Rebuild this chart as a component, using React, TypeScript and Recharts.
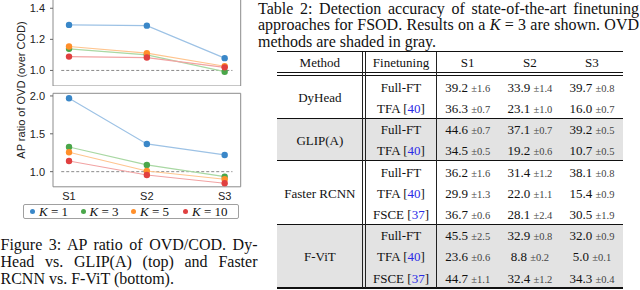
import { LineChart, Line, XAxis, YAxis, ReferenceLine, ReferenceArea } from 'recharts'

// ---- figure data (AP ratio OVD / COD) ----
const stages = ['S1', 'S2', 'S3']
const shotLabels = ['1', '3', '5', '10']
const dotColors = ['#3a87c8', '#4aa64a', '#ff8f2a', '#e04040']
const lineColors = ['#9dc2e5', '#a9d8a3', '#ffc58f', '#f2a3a3']

// top: DyHead vs GLIP(A)
const topK1 = [1.293, 1.288, 1.079]
const topK3 = [1.139, 1.1, 0.992]
const topK5 = [1.154, 1.111, 1.027]
const topK10 = [1.089, 1.083, 1.02]
const topTicks = [1.0, 1.2, 1.4]

// bottom: Faster RCNN vs F-ViT
const botK1 = [1.97, 1.366, 1.221]
const botK3 = [1.326, 1.089, 0.934]
const botK5 = [1.256, 1.009, 0.9]
const botK10 = [1.141, 0.956, 0.847]
const botTicks = [1.0, 1.5, 2.0]

// ---- table data (K = 3) ----
const methods = ['DyHead', 'GLIP(A)', 'Faster RCNN', 'F-ViT']
const methodRowCount = [2, 2, 3, 3]
const methodShaded = [false, true, false, true]
const finetuning = ['Full-FT', 'TFA', 'Full-FT', 'TFA', 'Full-FT', 'TFA', 'FSCE', 'Full-FT', 'TFA', 'FSCE']
const citations: Record<string, string> = { TFA: '40', FSCE: '37' }
const s1Mean = ['39.2', '36.3', '44.6', '34.5', '36.2', '29.9', '36.7', '45.5', '23.6', '44.7']
const s1Std = ['1.6', '0.7', '0.7', '0.5', '1.6', '1.3', '0.6', '2.5', '0.6', '1.1']
const s2Mean = ['33.9', '23.1', '37.1', '19.2', '31.4', '22.0', '28.1', '32.9', '8.8', '32.4']
const s2Std = ['1.4', '1.0', '0.7', '0.6', '1.2', '1.1', '2.4', '0.8', '0.2', '1.2']
const s3Mean = ['39.7', '16.0', '39.2', '10.7', '38.1', '15.4', '30.5', '32.0', '5.0', '34.3']
const s3Std = ['0.8', '0.7', '0.5', '0.5', '0.8', '0.9', '1.9', '0.9', '0.1', '0.4']

const SANS = "'Liberation Sans', Arial, sans-serif"
const SERIF = "'Liberation Serif', 'Times New Roman', serif"

const toRows = (k1: number[], k3: number[], k5: number[], k10: number[]) =>
  stages.map((_, i) => ({ x: i, k1: k1[i], k3: k3[i], k5: k5[i], k10: k10[i] }))

const topData = toRows(topK1, topK3, topK5, topK10)
const botData = toRows(botK1, botK3, botK5, botK10)
const keys = ['k1', 'k3', 'k5', 'k10']

const X_DOMAIN: [number, number] = [-0.206, 2.206]

function Panel({ data, domain, ticks, showX, top, height, marginTop }: {
  data: any[]
  domain: [number, number]
  ticks: number[]
  showX: boolean
  top: number
  height: number
  marginTop: number
}) {
  return (
    <div style={{ position: 'absolute', left: 0, top }}>
      <LineChart width={250} height={height} data={data}
        margin={{ top: marginTop, right: 9.3, bottom: 0, left: 8 }}>
        <XAxis
          type="number"
          dataKey="x"
          domain={X_DOMAIN}
          ticks={[0, 1, 2]}
          tickFormatter={(i: number) => stages[i]}
          hide={!showX}
          allowDataOverflow
          axisLine={false}
          tickLine={false}
          tickSize={3}
          tickMargin={2}
          height={20.2}
          tick={{ fontSize: 11, fill: '#222', fontFamily: SANS }}
        />
        <YAxis
          type="number"
          domain={domain}
          ticks={ticks}
          allowDataOverflow
          tickFormatter={(v: number) => v.toFixed(1)}
          width={45}
          axisLine={false}
          tickSize={3}
          tickMargin={5}
          tickLine={{ stroke: '#666' }}
          tick={{ fontSize: 11, fill: '#222', fontFamily: SANS }}
        />
        <ReferenceArea x1={X_DOMAIN[0]} x2={X_DOMAIN[1]} y1={domain[0]} y2={domain[1]}
          fill="none" fillOpacity={0} stroke="#8c8c8c" strokeWidth={1} strokeOpacity={1} />
        <ReferenceLine segment={[{ x: -0.1, y: 1 }, { x: 2.1, y: 1 }]}
          stroke="#8a8a8a" strokeDasharray="3 2" strokeWidth={1} />
        {keys.map((k, i) => (
          <Line key={k} dataKey={k} type="linear" stroke={lineColors[i]} strokeWidth={1.2}
            dot={{ r: 3.2, fill: dotColors[i], stroke: 'none' }}
            activeDot={false} isAnimationActive={false} />
        ))}
      </LineChart>
    </div>
  )
}

function Legend() {
  return (
    <div style={{
      position: 'absolute', left: 23, top: 204, width: 208, height: 13,
      border: '1px solid #a0a0a0', borderRadius: 2, display: 'flex', alignItems: 'center',
      paddingLeft: 6, boxSizing: 'content-box', fontFamily: SERIF, fontSize: 13, color: '#111',
    }}>
      {shotLabels.map((s, i) => (
        <div key={s} style={{ display: 'flex', alignItems: 'center', marginRight: i === 2 ? 14 : 12.5 }}>
          <span style={{ width: 5, height: 5, borderRadius: 3, background: dotColors[i], display: 'inline-block', marginRight: 4 }} />
          <span style={{ whiteSpace: 'nowrap', lineHeight: '13px' }}><i>K</i> = {s}</span>
        </div>
      ))}
    </div>
  )
}

function CaptionLine({ children, last }: { children: any; last?: boolean }) {
  return (
    <div style={{ height: 'auto', textAlign: 'justify', textAlignLast: last ? 'left' : 'justify', whiteSpace: 'nowrap' }}>
      {children}
    </div>
  )
}

// table geometry
const T_LEFT = 277
const T_RIGHT = 623
const COL_SPLIT1 = 362.7
const COL_SPLIT2 = 365.3
const COL_SPLIT3 = 436.7
const T_TOP = 51.7
const HEAD_BOTTOM = 72.3
const BODY_TOP = 76
const ROW_H = 21.2
const T_BOTTOM = 288

function Cell({ left, width, top, height, children, align = 'center' }: any) {
  return (
    <div style={{
      position: 'absolute', left, width, top: top + 1.2, height, display: 'flex',
      alignItems: 'center', justifyContent: align, whiteSpace: 'nowrap',
    }}>{children}</div>
  )
}

function Value({ mean, std }: { mean: string; std: string }) {
  return (
    <span>{mean} <span style={{ fontSize: 10.5, color: '#444' }}>±{std}</span></span>
  )
}

function Table() {
  const colW = (T_RIGHT - COL_SPLIT3) / 3
  const cols = [s1Mean, s2Mean, s3Mean]
  const stds = [s1Std, s2Std, s3Std]
  const hline = (y: number, h: number) => (
    <div style={{ position: 'absolute', left: T_LEFT, width: T_RIGHT - T_LEFT, top: y - h / 2, height: h, background: '#111' }} />
  )
  const vline = (x: number) => (
    <div style={{ position: 'absolute', left: x - 0.4, width: 0.8, top: T_TOP, height: T_BOTTOM - T_TOP, background: '#222' }} />
  )
  const blocks: { top: number; h: number }[] = []
  let y = BODY_TOP
  methodRowCount.forEach(n => { blocks.push({ top: y, h: n * ROW_H }); y += n * ROW_H })
  let rowIdx = 0
  const rows: any[] = []
  blocks.forEach((b, bi) => {
    for (let r = 0; r < methodRowCount[bi]; r++) {
      const i = rowIdx++
      const top = b.top + r * ROW_H
      const ft = finetuning[i]
      rows.push(
        <Cell key={'f' + i} left={COL_SPLIT2} width={COL_SPLIT3 - COL_SPLIT2} top={top} height={ROW_H}>
          <span>{ft}{citations[ft] ? <> [<span style={{ color: '#2a2ae6' }}>{citations[ft]}</span>]</> : null}</span>
        </Cell>
      )
      cols.forEach((c, ci) => rows.push(
        <Cell key={'v' + i + ci} left={COL_SPLIT3 + ci * colW} width={colW} top={top} height={ROW_H}>
          <Value mean={c[i]} std={stds[ci][i]} />
        </Cell>
      ))
    }
  })
  return (
    <div style={{ position: 'absolute', left: 0, top: 0, width: 640, height: 290, fontFamily: SERIF, fontSize: 13, color: '#111' }}>
      {blocks.map((b, bi) => methodShaded[bi] ? (
        <div key={'s' + bi} style={{ position: 'absolute', left: T_LEFT, width: T_RIGHT - T_LEFT, top: b.top, height: b.h, background: '#e3e3e3' }} />
      ) : null)}
      {hline(T_TOP, 1.1)}
      {hline(HEAD_BOTTOM, 0.7)}
      {hline(BODY_TOP - 0.3, 0.7)}
      {blocks.slice(1).map((b, bi) => <div key={'h' + bi}>{hline(b.top, 0.8)}</div>)}
      {hline(T_BOTTOM, 1.6)}
      {vline(COL_SPLIT1)}
      {vline(COL_SPLIT2)}
      {vline(COL_SPLIT3)}
      <Cell left={T_LEFT} width={COL_SPLIT1 - T_LEFT} top={T_TOP} height={HEAD_BOTTOM - T_TOP}>Method</Cell>
      <Cell left={COL_SPLIT2} width={COL_SPLIT3 - COL_SPLIT2} top={T_TOP} height={HEAD_BOTTOM - T_TOP}>Finetuning</Cell>
      {stages.map((s, i) => (
        <Cell key={s} left={COL_SPLIT3 + i * colW} width={colW} top={T_TOP} height={HEAD_BOTTOM - T_TOP}>{s}</Cell>
      ))}
      {blocks.map((b, bi) => (
        <Cell key={'m' + bi} left={T_LEFT} width={COL_SPLIT1 - T_LEFT} top={b.top} height={b.h}>{methods[bi]}</Cell>
      ))}
      {rows}
    </div>
  )
}

export default function App() {
  return (
    <div style={{ position: 'fixed', left: 0, top: 0, width: 640, height: 290, overflow: 'hidden', background: '#fff' }}>
      <Table />

      <Panel data={topData} domain={[0.9, 1.5]} ticks={topTicks} showX={false} top={-10} height={96} marginTop={2.7} />
      <Panel data={botData} domain={[0.8, 2.035]} ticks={botTicks} showX top={88} height={119} marginTop={5.3} />

      <div style={{
        position: 'absolute', left: 20.5, top: 90, transform: 'translate(-50%, -50%) rotate(-90deg)',
        whiteSpace: 'nowrap', fontFamily: SANS, fontSize: 11, color: '#222',
      }}>AP ratio of OVD (over COD)</div>

      <Legend />

      <div style={{ position: 'absolute', left: 0.5, top: 236, width: 257, fontFamily: SERIF, fontSize: 16, lineHeight: '17px', color: '#111' }}>
        <CaptionLine>Figure 3: AP ratio of OVD/COD. Dy-</CaptionLine>
        <CaptionLine>Head vs. GLIP(A) (top) and Faster</CaptionLine>
        <CaptionLine last>RCNN vs. F-ViT (bottom).</CaptionLine>
      </div>

      <div style={{ position: 'absolute', left: 258, top: 0.5, width: 381, fontFamily: SERIF, fontSize: 16, lineHeight: '16.5px', color: '#111' }}>
        <CaptionLine>Table 2: Detection accuracy of state-of-the-art finetuning</CaptionLine>
        <CaptionLine>approaches for FSOD. Results on a <i>K</i> = 3 are shown. OVD</CaptionLine>
        <CaptionLine last>methods are shaded in gray.</CaptionLine>
      </div>
    </div>
  )
}
